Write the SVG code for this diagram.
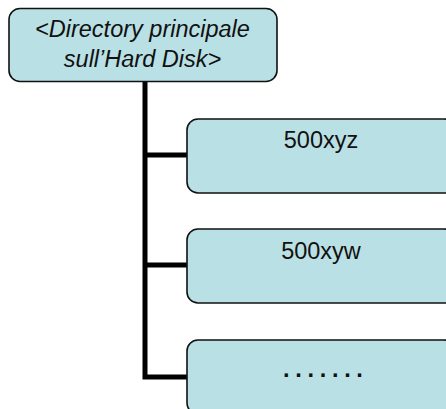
<svg xmlns="http://www.w3.org/2000/svg" width="446" height="409" viewBox="0 0 446 409">
<style>
.box{fill:#b9e0e4;stroke:#111;stroke-width:1.6}
.t{font-family:"Liberation Sans",Arial,sans-serif;font-size:23.5px;fill:#111}
.c{fill:none;stroke:#000;stroke-width:5}
</style>
<rect width="446" height="409" fill="#fff"/>
<g id="connectors">
<path class="c" d="M145,82 V377 H187"/>
<path class="c" d="M145,155 H187"/>
<path class="c" d="M145,265 H187"/>
</g>
<g id="root">
<rect class="box" x="9" y="8.5" width="268" height="73" rx="11"/>
<text class="t" x="142.5" y="36.5" text-anchor="middle" font-style="italic">&lt;Directory principale</text>
<text class="t" x="142.5" y="66.5" text-anchor="middle" font-style="italic">sull’Hard Disk&gt;</text>
</g>
<g id="n1">
<rect class="box" x="187" y="119" width="268" height="74" rx="11"/>
<text class="t" x="321" y="148" text-anchor="middle">500xyz</text>
</g>
<g id="n2">
<rect class="box" x="187" y="229" width="268" height="74" rx="11"/>
<text class="t" x="321" y="259" text-anchor="middle">500xyw</text>
</g>
<g id="n3">
<rect class="box" x="187" y="340" width="268" height="74" rx="11"/>
<text class="t" x="283" y="377" letter-spacing="5.7" font-weight="bold">.......</text>
</g>
</svg>
